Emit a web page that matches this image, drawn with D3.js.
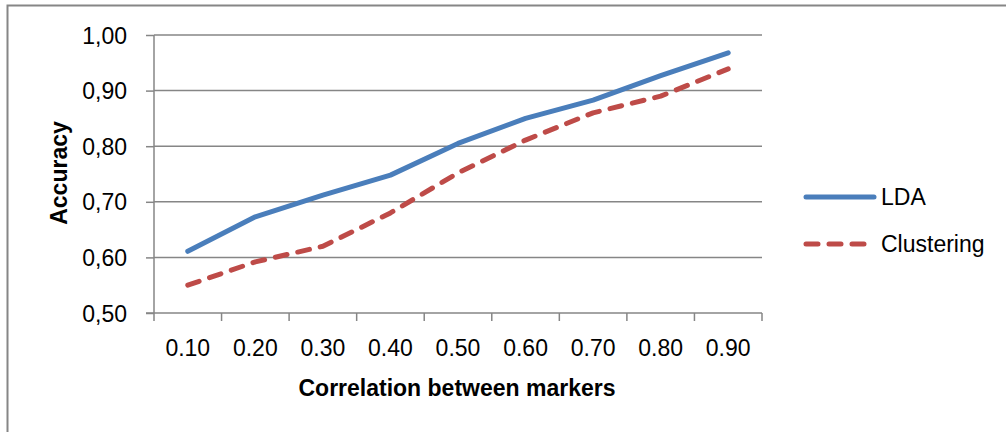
<!DOCTYPE html>
<html>
<head>
<meta charset="utf-8">
<script src="https://cdn.jsdelivr.net/npm/d3@7"></script>
<style>
  body { margin: 0; background: #fff; }
  text { font-family: "Liberation Sans", Arial, sans-serif; fill: #000; }
</style>
</head>
<body>
<svg id="chart" width="1006" height="432"></svg>
<script>
// accuracy vs correlation, two methods
const categories = ["0.10", "0.20", "0.30", "0.40", "0.50", "0.60", "0.70", "0.80", "0.90"];
const ldaVals = [0.611, 0.673, 0.712, 0.748, 0.805, 0.850, 0.883, 0.927, 0.968];
const clusVals = [0.550, 0.592, 0.620, 0.680, 0.752, 0.811, 0.860, 0.890, 0.939];
const yTicks = [0.5, 0.6, 0.7, 0.8, 0.9, 1.0];
const seriesNames = ["LDA", "Clustering"];

const blue = "#4a7ebb", red = "#be4b48", grid = "#868686";

const svg = d3.select("#chart");
const pL = 154, pR = 762, pT = 35, pB = 313;   // plot area

// outer frame (right & bottom edges fall off the picture)
svg.append("rect").attr("x", 7.5).attr("y", 5.5).attr("width", 1010).attr("height", 440)
   .attr("fill", "none").attr("stroke", grid).attr("stroke-width", 2);

const x = d3.scaleBand().domain(categories).range([pL, pR]).paddingInner(0).paddingOuter(0);
const y = d3.scaleLinear().domain([0.5, 1.0]).range([pB, pT]);

// horizontal gridlines
svg.append("g").selectAll("line").data(yTicks.slice(1)).join("line")
   .attr("x1", pL).attr("x2", pR)
   .attr("y1", d => y(d)).attr("y2", d => y(d))
   .attr("stroke", grid).attr("stroke-width", 1.5);

// y axis
const yAx = svg.append("g").attr("transform", "translate(" + pL + ",0)")
   .call(d3.axisLeft(y).tickValues(yTicks).tickSize(8).tickPadding(19)
         .tickFormat(d => d3.format(".2f")(d).replace(".", ",")));
yAx.select(".domain").attr("stroke", grid).attr("stroke-width", 1.5).attr("d", "M0," + pT + "V" + pB);
yAx.selectAll(".tick line").attr("stroke", grid).attr("stroke-width", 1.5);
yAx.selectAll(".tick text").attr("font-size", 23).attr("font-family", "Liberation Sans").attr("dy", "0.35em");

// x axis, ticks on band boundaries
const xAx = svg.append("g").attr("transform", "translate(0," + pB + ")");
xAx.append("line").attr("x1", pL - 8).attr("x2", pR).attr("y1", 0).attr("y2", 0)
   .attr("stroke", grid).attr("stroke-width", 1.5);
const bounds = categories.map(c => x(c)).concat([x(categories[categories.length - 1]) + x.bandwidth()]);
xAx.selectAll("line.tk").data(bounds).join("line").attr("class", "tk")
   .attr("x1", d => d).attr("x2", d => d).attr("y1", 0).attr("y2", 8)
   .attr("stroke", grid).attr("stroke-width", 1.5);
xAx.selectAll("text").data(categories).join("text")
   .attr("x", d => x(d) + x.bandwidth() / 2).attr("y", 43)
   .attr("text-anchor", "middle").attr("font-size", 23).text(d => d);

// axis titles
svg.append("text").attr("x", 457).attr("y", 396).attr("text-anchor", "middle")
   .attr("font-size", 23).attr("font-weight", "bold").text("Correlation between markers");
svg.append("text").attr("transform", "translate(67,173) rotate(-90)").attr("text-anchor", "middle")
   .attr("font-size", 23).attr("font-weight", "bold").text("Accuracy");

// series
const line = d3.line().x((d, i) => x(categories[i]) + x.bandwidth() / 2).y(d => y(d));
svg.append("path").datum(ldaVals).attr("d", line).attr("fill", "none")
   .attr("stroke", blue).attr("stroke-width", 5).attr("stroke-linecap", "round").attr("stroke-linejoin", "round");
svg.append("path").datum(clusVals).attr("d", line).attr("fill", "none")
   .attr("stroke", red).attr("stroke-width", 5).attr("stroke-linecap", "round").attr("stroke-linejoin", "round")
   .attr("stroke-dasharray", "12,11");

// legend
const leg = svg.append("g");
const legY = [197, 244];
const legCol = [blue, red];
seriesNames.forEach((n, i) => {
  leg.append("line").attr("x1", 806).attr("x2", 874).attr("y1", legY[i]).attr("y2", legY[i])
     .attr("stroke", legCol[i]).attr("stroke-width", 5).attr("stroke-linecap", "round")
     .attr("stroke-dasharray", i == 1 ? "12,11" : null);
  leg.append("text").attr("x", 881).attr("y", legY[i]).attr("dy", "0.35em")
     .attr("font-size", 23).text(n);
});
</script>
</body>
</html>
